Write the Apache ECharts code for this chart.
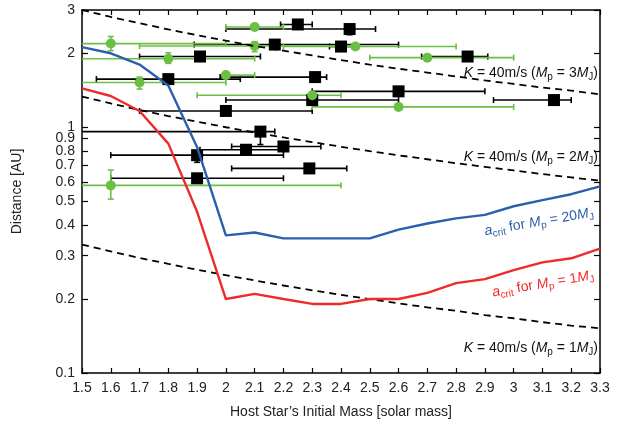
<!DOCTYPE html>
<html>
<head>
<meta charset="UTF-8">
<title>acrit</title>
<script src="https://cdn.jsdelivr.net/npm/echarts@6/dist/echarts.min.js"></script>
<style>
  html, body { margin: 0; padding: 0; background: #fff; }
  #main { width: 621px; height: 424px; }
</style>
</head>
<body>
<div id="main"></div>
<script>
// host star mass grid used by the curves
var masses = [1.5, 1.6, 1.7, 1.8, 1.9, 2.0, 2.1, 2.2, 2.3, 2.4, 2.5, 2.6, 2.7, 2.8, 2.9, 3.0, 3.1, 3.2, 3.3];
// a_crit curves
var acrit20MJ = [2.12, 2.0, 1.80, 1.48, 0.83, 0.363, 0.373, 0.353, 0.353, 0.353, 0.353, 0.383, 0.406, 0.426, 0.44, 0.477, 0.505, 0.534, 0.575];
var acrit1MJ = [1.44, 1.34, 1.165, 0.858, 0.453, 0.200, 0.21, 0.20, 0.191, 0.191, 0.20, 0.20, 0.212, 0.232, 0.241, 0.262, 0.282, 0.293, 0.321];
// K = 40 m/s detection limits
var k3MJ = [3.0, 2.81, 2.65, 2.5, 2.37, 2.25, 2.14, 2.05, 1.96, 1.875, 1.8, 1.73, 1.67, 1.61, 1.55, 1.5, 1.45, 1.41, 1.36];
var k2MJ = [1.333, 1.25, 1.176, 1.111, 1.053, 1.0, 0.952, 0.909, 0.870, 0.833, 0.80, 0.769, 0.741, 0.714, 0.69, 0.667, 0.645, 0.625, 0.606];
var k1MJ = [0.333, 0.3125, 0.294, 0.278, 0.263, 0.25, 0.238, 0.227, 0.217, 0.208, 0.20, 0.192, 0.185, 0.179, 0.172, 0.167, 0.161, 0.156, 0.152];

// planets: [mass, distance, massLo, massHi, distLo, distHi]
var blackPlanets = [
    [2.25, 2.62, 2.19, 2.30, 2.52, 2.62],
    [2.43, 2.51, 2.00, 2.52, 2.38, 2.51],
    [2.17, 2.17, 1.89, 2.60, 2.17, 2.17],
    [2.40, 2.13, 2.36, 2.44, 2.13, 2.13],
    [1.91, 1.94, 1.70, 2.12, 1.94, 1.94],
    [2.84, 1.94, 2.68, 2.91, 1.94, 1.94],
    [1.80, 1.57, 1.55, 2.05, 1.57, 1.57],
    [2.31, 1.60, 1.98, 2.35, 1.60, 1.60],
    [2.60, 1.40, 2.30, 2.90, 1.40, 1.40],
    [2.30, 1.29, 2.00, 2.60, 1.29, 1.29],
    [3.14, 1.29, 2.93, 3.20, 1.29, 1.29],
    [2.00, 1.165, 1.70, 2.30, 1.165, 1.165],
    [2.12, 0.96, 1.40, 2.17, 0.85, 0.96],
    [2.07, 0.81, 1.91, 2.20, 0.81, 0.81],
    [2.20, 0.835, 2.02, 2.33, 0.835, 0.835],
    [1.90, 0.77, 1.60, 2.20, 0.72, 0.80],
    [2.29, 0.68, 2.02, 2.42, 0.68, 0.68],
    [1.90, 0.62, 1.60, 2.20, 0.62, 0.62]
];
var greenPlanets = [
    [2.10, 2.56, 2.00, 2.20, 2.56, 2.56],
    [1.60, 2.19, 1.40, 2.00, 2.05, 2.34],
    [2.10, 2.14, 1.70, 2.40, 2.03, 2.23],
    [2.45, 2.13, 2.20, 2.80, 2.13, 2.13],
    [1.80, 1.90, 1.40, 2.10, 1.82, 2.01],
    [2.70, 1.92, 2.50, 3.00, 1.92, 1.92],
    [1.70, 1.52, 1.40, 2.00, 1.43, 1.60],
    [2.00, 1.63, 1.99, 2.10, 1.63, 1.63],
    [2.30, 1.35, 1.90, 2.40, 1.35, 1.35],
    [2.60, 1.21, 2.30, 3.00, 1.21, 1.21],
    [1.60, 0.58, 1.40, 2.40, 0.51, 0.67]
];
var yTicks = [0.1, 0.2, 0.3, 0.4, 0.5, 0.6, 0.7, 0.8, 0.9, 1, 2, 3];

var GREEN = '#6cbf45', BLUE = '#2b5fad', RED = '#ee2b2b';
var FONT = 'Liberation Sans';

function pairs(ys) {
    return masses.map(function (m, i) { return [m, ys[i]]; });
}

function errorBars(color) {
    return function (params, api) {
        var x = api.value(0), y = api.value(1);
        var pL = api.coord([api.value(2), y]);
        var pR = api.coord([api.value(3), y]);
        var pLo = api.coord([x, api.value(4)]);
        var pHi = api.coord([x, api.value(5)]);
        var st = { stroke: color, lineWidth: 1.6 };
        var cap = 3;
        var kids = [
            { type: 'line', shape: { x1: pL[0], y1: pL[1], x2: pR[0], y2: pR[1] }, style: st },
            { type: 'line', shape: { x1: pL[0], y1: pL[1] - cap, x2: pL[0], y2: pL[1] + cap }, style: st },
            { type: 'line', shape: { x1: pR[0], y1: pR[1] - cap, x2: pR[0], y2: pR[1] + cap }, style: st }
        ];
        if (Math.abs(pLo[1] - pHi[1]) > 0.5) {
            kids.push({ type: 'line', shape: { x1: pLo[0], y1: pLo[1], x2: pHi[0], y2: pHi[1] }, style: st });
            kids.push({ type: 'line', shape: { x1: pLo[0] - cap, y1: pLo[1], x2: pLo[0] + cap, y2: pLo[1] }, style: st });
            kids.push({ type: 'line', shape: { x1: pHi[0] - cap, y1: pHi[1], x2: pHi[0] + cap, y2: pHi[1] }, style: st });
        }
        return { type: 'group', children: kids };
    };
}

var richStyles = {
    i: { fontStyle: 'italic', fontSize: 14, fontFamily: FONT, lineHeight: 18 },
    s: { fontSize: 10, fontFamily: FONT, lineHeight: 10, verticalAlign: 'bottom' }
};
function label(text, x, y, color, align, rot) {
    return {
        type: 'text', x: x, y: y, rotation: rot || 0, z: 100,
        style: {
            text: text, fill: color, align: align, verticalAlign: 'middle',
            fontSize: 14, fontFamily: FONT, lineHeight: 18,
            rich: {
                i: Object.assign({ fill: color }, richStyles.i),
                s: Object.assign({ fill: color }, richStyles.s)
            }
        }
    };
}

var tickStyle = { show: true, inside: true, length: 5, lineStyle: { color: '#000', width: 1.2 } };
var lineStyle = { show: true, lineStyle: { color: '#000', width: 1.5 } };
var dashed = { color: '#000', width: 1.8, type: [7, 5] };

var myChart = echarts.init(document.getElementById('main'));
var option = {
    animation: false,
    backgroundColor: '#fff',
    grid: { left: 82, right: 21, top: 10, bottom: 46 },
    xAxis: [{
        type: 'value', min: 1.5, max: 3.3, interval: 0.1,
        name: 'Host Star\u2019s Initial Mass [solar mass]', nameLocation: 'middle', nameGap: 32,
        nameTextStyle: { fontSize: 14, fontFamily: FONT, color: '#222' },
        axisLine: lineStyle, axisTick: tickStyle, splitLine: { show: false },
        axisLabel: { fontSize: 14, fontFamily: FONT, color: '#222', margin: 8 }
    }, {
        type: 'value', min: 1.5, max: 3.3, interval: 0.1, position: 'top',
        axisLine: lineStyle, axisTick: tickStyle, splitLine: { show: false },
        axisLabel: { show: false }
    }],
    yAxis: [{
        type: 'log', logBase: 10, min: 0.1, max: 3,
        name: 'Distance [AU]', nameLocation: 'middle', nameGap: 58,
        nameTextStyle: { fontSize: 14, fontFamily: FONT, color: '#222' },
        axisLine: lineStyle,
        axisTick: Object.assign({ customValues: yTicks }, tickStyle, { length: 6 }),
        minorTick: { show: false }, splitLine: { show: false },
        axisLabel: { customValues: yTicks, fontSize: 14, fontFamily: FONT, color: '#222', margin: 7 }
    }, {
        type: 'log', logBase: 10, min: 0.1, max: 3, position: 'right',
        axisLine: lineStyle,
        axisTick: Object.assign({ customValues: yTicks }, tickStyle, { length: 6 }),
        splitLine: { show: false }, axisLabel: { show: false }
    }],
    series: [
        { type: 'line', data: pairs(k3MJ), symbol: 'none', lineStyle: dashed },
        { type: 'line', data: pairs(k2MJ), symbol: 'none', lineStyle: dashed },
        { type: 'line', data: pairs(k1MJ), symbol: 'none', lineStyle: dashed },
        { type: 'custom', renderItem: errorBars('#000'), data: blackPlanets, encode: { x: 0, y: 1 }, clip: true },
        { type: 'scatter', data: blackPlanets, symbol: 'rect', symbolSize: 12, itemStyle: { color: '#000', opacity: 1 }, encode: { x: 0, y: 1 } },
        { type: 'custom', renderItem: errorBars(GREEN), data: greenPlanets, encode: { x: 0, y: 1 }, clip: true },
        { type: 'scatter', data: greenPlanets, symbol: 'circle', symbolSize: 10, itemStyle: { color: GREEN, opacity: 1 }, encode: { x: 0, y: 1 } },
        { type: 'line', data: pairs(acrit20MJ), symbol: 'none', lineStyle: { color: BLUE, width: 2.4 } },
        { type: 'line', data: pairs(acrit1MJ), symbol: 'none', lineStyle: { color: RED, width: 2.4 } }
    ],
    graphic: [
        label('{i|K} = 40m/s ({i|M}{s|p} = 3{i|M}{s|J})', 598, 73, '#111', 'right'),
        label('{i|K} = 40m/s ({i|M}{s|p} = 2{i|M}{s|J})', 598, 157, '#111', 'right'),
        label('{i|K} = 40m/s ({i|M}{s|p} = 1{i|M}{s|J})', 598, 348, '#111', 'right'),
        label('{i|a}{s|crit} for {i|M}{s|p} = 20{i|M}{s|J}', 539, 222, BLUE, 'center', 0.17),
        label('{i|a}{s|crit} for {i|M}{s|p} = 1{i|M}{s|J}', 543, 284, RED, 'center', 0.17)
    ]
};
myChart.setOption(option);
</script>
</body>
</html>
